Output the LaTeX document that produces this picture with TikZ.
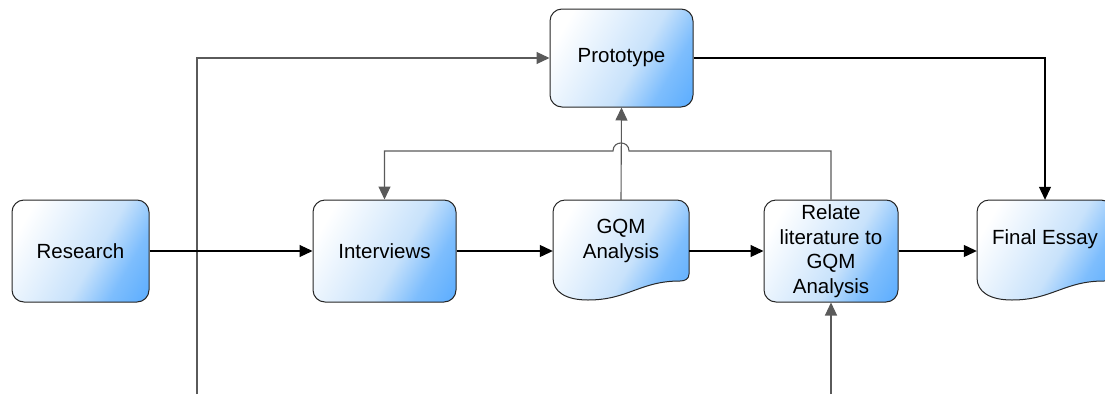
\documentclass[tikz,border=0pt]{standalone}
\usepackage{fontspec}
\setmainfont{Liberation Sans}
\usetikzlibrary{arrows.meta}
\definecolor{boxline}{HTML}{262626}
\definecolor{edgegray}{HTML}{5A5A5A}
\definecolor{deepblue}{HTML}{3399FF}
\definecolor{paleblue}{HTML}{C8E2FB}

% white on the left, pale blue body, strong blue toward the far corner
\pgfdeclarehorizontalshading{boxshade}{100bp}{%
  color(0bp)=(white); color(24bp)=(white);
  color(42bp)=(white!45!paleblue); color(56bp)=(paleblue);
  color(70bp)=(paleblue!50!deepblue); color(100bp)=(deepblue)}

% Document shape: rounded top corners, wavy bottom edge.
% #1 = left x, #2 = top y, #3 = width
\newcommand\docoutline[3]{%
  \path[boxfill, draw=boxline, line width=1pt]
    (#1, #2+12) .. controls (#1, #2+5.4) and (#1+5.4, #2) .. (#1+12, #2)
    -- (#1+#3-12, #2) .. controls (#1+#3-5.4, #2) and (#1+#3, #2+5.4) .. (#1+#3, #2+12)
    -- (#1+#3, #2+74) .. controls (#1+#3, #2+79) and (#1+#3-4, #2+81) .. (#1+#3-9, #2+81)
    .. controls (#1+#3-49, #2+81) and (#1+75, #2+100) .. (#1+35, #2+100)
    .. controls (#1+13, #2+100) and (#1, #2+92) .. (#1, #2+78) -- cycle;
}

\begin{document}
\begin{tikzpicture}[x=1pt, y=-1pt,
  boxfill/.style={shade, shading=boxshade, shading angle=-30},
  txt/.style={font=\fontsize{20.5}{24.5}\selectfont, align=center, inner sep=0pt},
  procbox/.style={txt, boxfill, draw=boxline, line width=1pt, rounded corners=12pt},
  docanchor/.style={inner sep=0pt, minimum width=136pt, minimum height=102pt},
  conn/.style={draw=black, line width=1.1pt, -{Triangle[length=13pt, width=12pt]}},
  connsoft/.style={conn, draw=edgegray}]
\useasboundingbox (0,0) rectangle (1105,394);
\clip (0,0) rectangle (1105,394);

% process boxes
\node[procbox, minimum width=137pt, minimum height=102pt] (research) at (80.5,251) {Research};
\node[procbox, minimum width=143pt, minimum height=102pt] (interviews) at (384.5,251) {Interviews};
\node[procbox, minimum width=143pt, minimum height=98pt] (proto) at (621.5,58) {Prototype};
\node[procbox, minimum width=134pt, minimum height=102pt] (relate) at (831,251)
  {Relate\\literature to\\GQM\\Analysis};

% document shapes
\docoutline{553}{200}{136}
\node[docanchor] (gqm) at (621,251) {};
\node[txt] (gqmtext) at (621,241) {GQM\\Analysis};

\docoutline{977}{200}{136}
\node[docanchor] (final) at (1045,251) {};
\node[txt] (finaltext) at (1045,239) {Final Essay};

% loose ends entering from below
\coordinate (src1) at (197,394);
\coordinate (src2) at (831,394);
% line hop over the vertical connector
\coordinate (hopR) at (629,151);
\coordinate (hopL) at (613,151);

% connectors
\draw[connsoft] (src1) |- (proto.west);
\draw[conn] (research.east) -- (interviews.west);
\draw[conn] (interviews.east) -- (gqm.west);
\draw[conn] (gqm.east) -- (relate.west);
\draw[conn] (relate.east) -- (final.west);
\draw[conn] (proto.east) -| (final.north);
\draw[connsoft] (gqm.north) -- (proto.south);
\draw[connsoft] (relate.north) |- (hopR)
  .. controls +(0,-10.7) and +(0,-10.7) .. (hopL) -| (interviews.north);
\draw[connsoft] (src2) -- (relate.south);
\end{tikzpicture}
\end{document}
